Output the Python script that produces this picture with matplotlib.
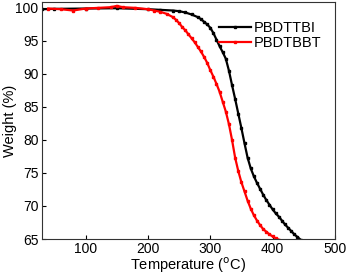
import matplotlib
matplotlib.use("Agg")
import matplotlib.pyplot as plt

plt.rcParams['font.family'] = ['Liberation Sans', 'DejaVu Sans']

# PBDTTBI (black)
t_black = [30, 50, 100, 150, 200, 220, 240, 250, 260, 270, 280, 285, 290, 295, 300,
           305, 310, 315, 320, 325, 330, 335, 340, 345, 350, 355, 360, 365, 370, 375,
           380, 385, 390, 395, 400, 405, 410, 415, 420, 425, 430, 435, 440, 445]
w_black = [99.8, 99.85, 99.9, 99.95, 99.8, 99.7, 99.6, 99.5, 99.3, 99.0, 98.6, 98.3, 97.9, 97.5, 97.0,
           96.2, 95.2, 94.2, 93.3, 92.3, 90.5, 88.3, 86.2, 84.0, 81.8, 79.5, 77.3, 75.7, 74.5, 73.5,
           72.6, 71.7, 70.9, 70.2, 69.5, 68.9, 68.4, 67.8, 67.2, 66.7, 66.2, 65.7, 65.3, 64.9]

# PBDTBBT (red)
t_red = [40, 60, 80, 100, 120, 140, 150, 160, 180, 200, 210, 220, 230, 240, 245, 250,
         255, 260, 265, 270, 275, 280, 285, 290, 295, 300, 305, 310, 315, 320, 325, 330,
         335, 340, 345, 350, 355, 360, 365, 370, 375, 380, 385, 390, 395, 400, 405, 410]
w_red = [99.9, 99.8, 99.6, 99.9, 100.0, 100.1, 100.3, 100.1, 100.0, 99.8, 99.6, 99.4, 99.1, 98.6, 98.2, 97.7,
         97.1, 96.6, 96.0, 95.4, 94.8, 94.1, 93.4, 92.6, 91.7, 90.6, 89.6, 88.5, 87.3, 85.8, 84.3, 82.4,
         80.0, 77.3, 75.3, 73.6, 72.2, 70.8, 69.6, 68.6, 67.8, 67.1, 66.5, 66.1, 65.7, 65.4, 65.1, 64.9]

fig = plt.figure(figsize=(3.47, 2.76), dpi=100)
ax = fig.add_axes([0.121, 0.134, 0.844, 0.859])

ax.plot(t_black, w_black, color='black', marker='s', markersize=2, linewidth=1.6, label='PBDTTBI')
ax.plot(t_red, w_red, color='red', marker='s', markersize=2, linewidth=1.6, label='PBDTBBT')

ax.set_xlim(30, 500)
ax.set_ylim(65, 100.9)
ax.set_xticks([100, 200, 300, 400, 500])
ax.set_yticks([65, 70, 75, 80, 85, 90, 95, 100])
ax.tick_params(direction='in', labelsize=10, length=3, pad=2.5)
for s in ax.spines.values():
    s.set_color('#333333')
ax.set_xlabel('Temperature ($^{\\rm o}$C)', fontsize=10.5)
ax.xaxis.set_label_coords(0.5, -0.068)
ax.set_ylabel('Weight (%)', fontsize=10.5)
ax.yaxis.set_label_coords(-0.086, 0.5)

ax.legend(loc='upper right', frameon=False, fontsize=10.5, handlelength=2.2,
          handletextpad=0.2, labelspacing=0.1, bbox_to_anchor=(1.0, 0.975))

fig.savefig('out.png', dpi=100)
